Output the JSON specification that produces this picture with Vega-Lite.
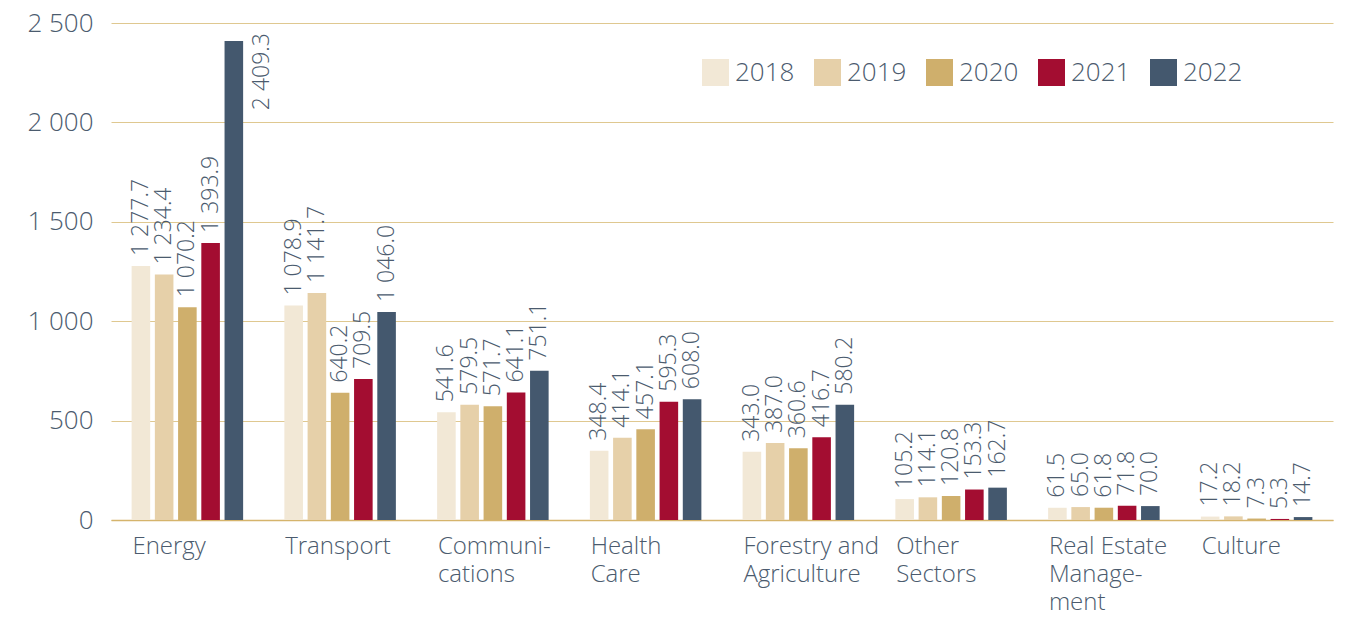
{
  "$schema": "https://vega.github.io/schema/vega-lite/v6.json",
  "width": 1222,
  "height": 497,
  "autosize": {"type": "none"},
  "padding": {"left": 111, "top": 23, "right": 14, "bottom": 97},
  "background": "white",
  "config": {
    "view": {"stroke": null},
    "font": "Open Sans",
    "axis": {"labelFontWeight": 300},
    "legend": {"labelFontWeight": 300},
    "locale": {"number": {"decimal": ".", "thousands": " ", "grouping": [3], "currency": ["", ""]}}
  },
  "data": {
    "values": [
      {"sector": "Energy", "year": "2018", "value": 1277.7},
      {"sector": "Energy", "year": "2019", "value": 1234.4},
      {"sector": "Energy", "year": "2020", "value": 1070.2},
      {"sector": "Energy", "year": "2021", "value": 1393.9},
      {"sector": "Energy", "year": "2022", "value": 2409.3},
      {"sector": "Transport", "year": "2018", "value": 1078.9},
      {"sector": "Transport", "year": "2019", "value": 1141.7},
      {"sector": "Transport", "year": "2020", "value": 640.2},
      {"sector": "Transport", "year": "2021", "value": 709.5},
      {"sector": "Transport", "year": "2022", "value": 1046.0},
      {"sector": "Communi-|cations", "year": "2018", "value": 541.6},
      {"sector": "Communi-|cations", "year": "2019", "value": 579.5},
      {"sector": "Communi-|cations", "year": "2020", "value": 571.7},
      {"sector": "Communi-|cations", "year": "2021", "value": 641.1},
      {"sector": "Communi-|cations", "year": "2022", "value": 751.1},
      {"sector": "Health|Care", "year": "2018", "value": 348.4},
      {"sector": "Health|Care", "year": "2019", "value": 414.1},
      {"sector": "Health|Care", "year": "2020", "value": 457.1},
      {"sector": "Health|Care", "year": "2021", "value": 595.3},
      {"sector": "Health|Care", "year": "2022", "value": 608.0},
      {"sector": "Forestry and|Agriculture", "year": "2018", "value": 343.0},
      {"sector": "Forestry and|Agriculture", "year": "2019", "value": 387.0},
      {"sector": "Forestry and|Agriculture", "year": "2020", "value": 360.6},
      {"sector": "Forestry and|Agriculture", "year": "2021", "value": 416.7},
      {"sector": "Forestry and|Agriculture", "year": "2022", "value": 580.2},
      {"sector": "Other|Sectors", "year": "2018", "value": 105.2},
      {"sector": "Other|Sectors", "year": "2019", "value": 114.1},
      {"sector": "Other|Sectors", "year": "2020", "value": 120.8},
      {"sector": "Other|Sectors", "year": "2021", "value": 153.3},
      {"sector": "Other|Sectors", "year": "2022", "value": 162.7},
      {"sector": "Real Estate|Manage-|ment", "year": "2018", "value": 61.5},
      {"sector": "Real Estate|Manage-|ment", "year": "2019", "value": 65.0},
      {"sector": "Real Estate|Manage-|ment", "year": "2020", "value": 61.8},
      {"sector": "Real Estate|Manage-|ment", "year": "2021", "value": 71.8},
      {"sector": "Real Estate|Manage-|ment", "year": "2022", "value": 70.0},
      {"sector": "Culture", "year": "2018", "value": 17.2},
      {"sector": "Culture", "year": "2019", "value": 18.2},
      {"sector": "Culture", "year": "2020", "value": 7.3},
      {"sector": "Culture", "year": "2021", "value": 5.3},
      {"sector": "Culture", "year": "2022", "value": 14.7}
    ]
  },
  "encoding": {
    "x": {
      "field": "sector",
      "type": "nominal",
      "sort": null,
      "scale": {"paddingInner": 0.27, "paddingOuter": 0.135},
      "axis": {
        "title": null,
        "labelAngle": 0,
        "labelAlign": "left",
        "labelBaseline": "top",
        "labelExpr": "split(datum.label, '|')",
        "labelLineHeight": 28,
        "labelFontSize": 24,
        "labelColor": "#4b5b6e",
        "labelPadding": 14,
        "labelOffset": -55,
        "ticks": false,
        "domain": true,
        "domainColor": "#d5b46c",
        "domainWidth": 1.5,
        "grid": false
      }
    },
    "xOffset": {
      "field": "year",
      "type": "nominal",
      "scale": {"paddingInner": 0.2, "paddingOuter": 0}
    },
    "y": {
      "field": "value",
      "type": "quantitative",
      "scale": {"domain": [0, 2500], "nice": false},
      "axis": {
        "title": null,
        "values": [0, 500, 1000, 1500, 2000, 2500],
        "format": ",d",
        "labelFontSize": 26,
        "labelColor": "#4b5b6e",
        "labelPadding": 18,
        "ticks": false,
        "domain": false,
        "grid": true,
        "gridColor": "#dfc890",
        "gridWidth": 1
      }
    }
  },
  "layer": [
    {
      "mark": {"type": "bar"},
      "encoding": {
        "color": {
          "field": "year",
          "type": "nominal",
          "scale": {
            "domain": ["2018", "2019", "2020", "2021", "2022"],
            "range": ["#f2e8d6", "#e6d0a9", "#cfaf6c", "#a30d31", "#44586e"]
          },
          "legend": {
            "title": null,
            "orient": "none",
            "direction": "horizontal",
            "legendX": 591,
            "legendY": 36,
            "symbolType": "square",
            "symbolSize": 729,
            "symbolStrokeWidth": 0,
            "labelFontSize": 26,
            "labelColor": "#4b5b6e",
            "labelOffset": 6,
            "columnPadding": 19
          }
        }
      }
    },
    {
      "transform": [{"filter": "datum.value < 2000"}],
      "mark": {
        "type": "text",
        "angle": 270,
        "align": "left",
        "baseline": "middle",
        "dx": 10,
        "fontSize": 23,
        "fontWeight": 300,
        "color": "#4b5b6e"
      },
      "encoding": {
        "text": {"field": "value", "type": "quantitative", "format": ",.1f"}
      }
    },
    {
      "transform": [{"filter": "datum.value >= 2000"}],
      "mark": {
        "type": "text",
        "angle": 270,
        "align": "right",
        "baseline": "middle",
        "dx": 8,
        "dy": 28,
        "fontSize": 23,
        "fontWeight": 300,
        "color": "#4b5b6e"
      },
      "encoding": {
        "text": {"field": "value", "type": "quantitative", "format": ",.1f"}
      }
    }
  ]
}
